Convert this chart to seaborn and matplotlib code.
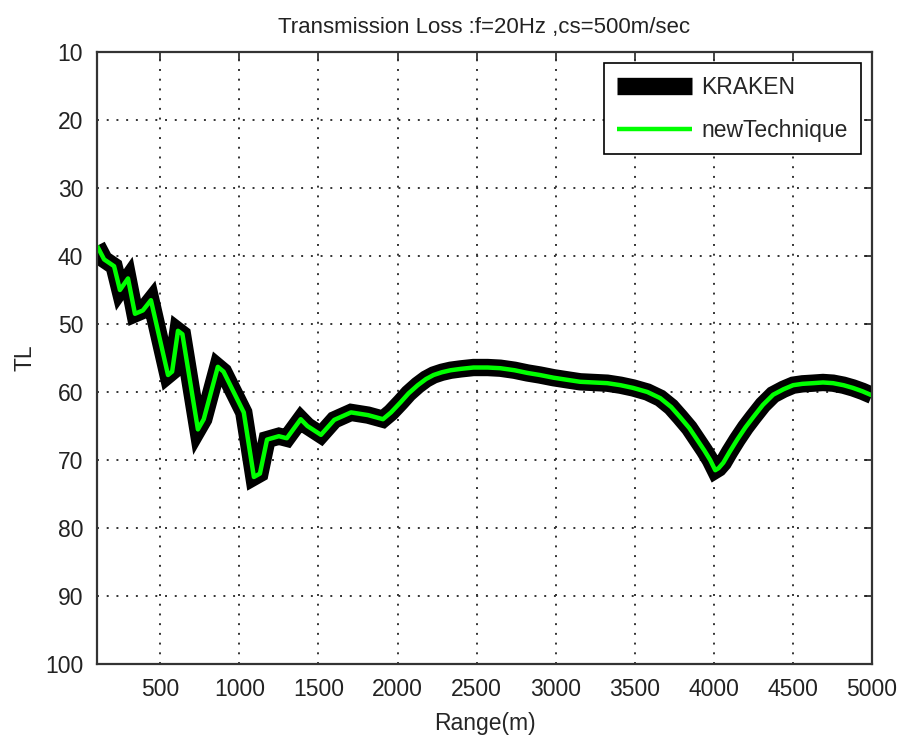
import matplotlib
matplotlib.use("Agg")
import matplotlib.pyplot as plt
import seaborn as sns
import pandas as pd

# Transmission loss versus range for the two propagation models
range_m = [100, 145, 208, 245, 296, 340, 390, 441, 549, 575, 612, 640, 738, 775,
           864, 900, 1028, 1092, 1130, 1175, 1250, 1300, 1388, 1430, 1516, 1600,
           1706, 1814, 1908, 1959, 2020, 2070, 2128, 2180, 2228, 2280, 2336, 2400,
           2480, 2570, 2650, 2740, 2822, 2900, 2987, 3070, 3155, 3240, 3326, 3410,
           3490, 3580, 3661, 3730, 3787, 3845, 3894, 3940, 3977, 4009, 4030, 4060,
           4100, 4148, 4200, 4249, 4310, 4375, 4440, 4501, 4560, 4628, 4690, 4754,
           4820, 4880, 4940, 5000]
tl_kraken = [38.5, 40.5, 41.5, 45.0, 43.3, 48.5, 48.0, 46.5, 57.5, 57.0, 51.0, 51.5,
             65.5, 64.0, 56.3, 57.0, 63.0, 72.5, 72.0, 67.0, 66.5, 66.8, 64.0, 65.0,
             66.3, 64.1, 63.0, 63.4, 64.0, 63.0, 61.5, 60.2, 59.0, 58.1, 57.5, 57.1,
             56.8, 56.6, 56.4, 56.4, 56.5, 56.8, 57.2, 57.5, 57.9, 58.2, 58.5, 58.6,
             58.7, 59.0, 59.4, 60.0, 60.9, 62.2, 63.7, 65.3, 67.0, 68.6, 70.0, 71.5,
             71.2, 70.4, 68.8, 67.0, 65.2, 63.7, 61.9, 60.4, 59.6, 59.0, 58.8, 58.7,
             58.6, 58.7, 59.0, 59.4, 59.9, 60.5]
tl_new = list(tl_kraken)

x_ticks = [500, 1000, 1500, 2000, 2500, 3000, 3500, 4000, 4500, 5000]
y_ticks = [10, 20, 30, 40, 50, 60, 70, 80, 90, 100]

sns.set_style("white")
plt.rcParams["font.family"] = ["Liberation Sans", "DejaVu Sans"]

df = pd.concat([
    pd.DataFrame({"Range": range_m, "TL": tl_kraken, "model": "KRAKEN"}),
    pd.DataFrame({"Range": range_m, "TL": tl_new, "model": "newTechnique"}),
])

fig = plt.figure(figsize=(9.02, 7.44), dpi=100)
ax = fig.add_axes([97 / 902, 1 - 664 / 744, (872 - 97) / 902, (664 - 52) / 744])

sns.lineplot(data=df[df.model == "KRAKEN"], x="Range", y="TL", ax=ax,
             color="black", linewidth=12.5, label="KRAKEN", sort=False,
             solid_capstyle="butt", solid_joinstyle="miter")
sns.lineplot(data=df[df.model == "newTechnique"], x="Range", y="TL", ax=ax,
             color="#00ff00", linewidth=3.2, label="newTechnique", sort=False,
             solid_capstyle="butt")

ax.set_xlim(100, 5000)
ax.set_ylim(100, 10)
ax.set_xticks(x_ticks)
ax.set_yticks(y_ticks)
ax.tick_params(direction="in", length=6, width=1.2, top=True, right=True,
               labelsize=16.5, colors="#222222", pad=10)
ax.grid(True, color="#333333", linestyle=(0, (1, 4)), linewidth=1.4)
for s in ax.spines.values():
    s.set_linewidth(1.6)
    s.set_color("#333333")

ax.set_xlabel("Range(m)", fontsize=16.5, labelpad=8)
ax.set_ylabel("TL", fontsize=16.5, labelpad=6)
ax.set_title("Transmission Loss :f=20Hz ,cs=500m/sec", fontsize=16, pad=14,
             color="#222222")

leg = ax.legend(loc="upper right", fontsize=16.5, frameon=True, fancybox=False,
                handlelength=3.3, borderaxespad=0.5, handletextpad=0.4,
                labelspacing=0.85, borderpad=0.55)
leg.get_frame().set_edgecolor("black")
leg.get_frame().set_linewidth(1.2)
leg.get_frame().set_alpha(1)

fig.savefig("out.png", dpi=100)
